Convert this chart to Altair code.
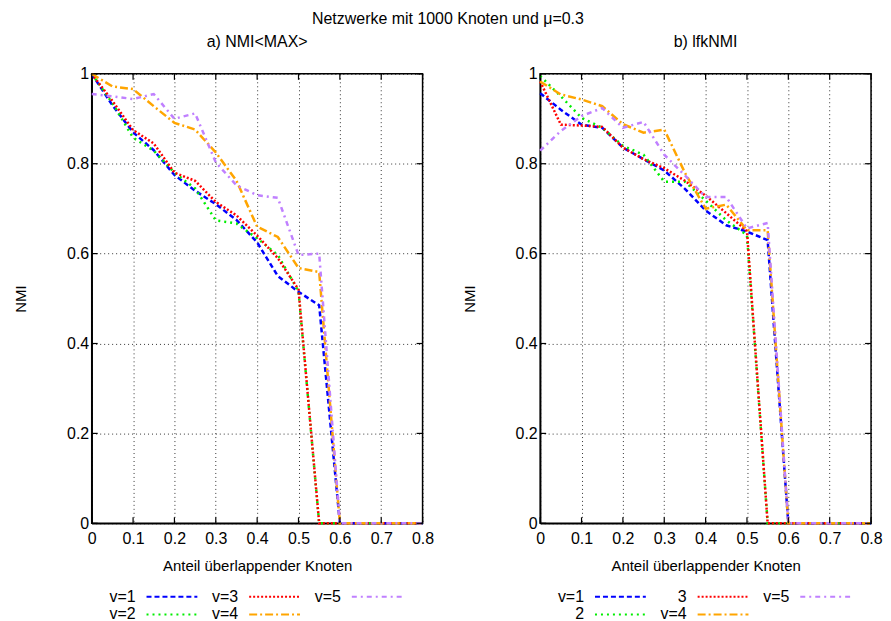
import altair as alt
import pandas as pd

# ---------------- data ----------------
x_vals = [0.0, 0.05, 0.1, 0.15, 0.2, 0.25, 0.3, 0.35, 0.4, 0.45, 0.5, 0.55, 0.6, 0.65, 0.7, 0.75, 0.8]

# a) NMI<MAX>
a_v1 = [1.0, 0.93, 0.87, 0.83, 0.775, 0.74, 0.71, 0.675, 0.625, 0.55, 0.515, 0.485, 0, 0, 0, 0, 0]
a_v2 = [1.0, 0.935, 0.858, 0.829, 0.78, 0.745, 0.674, 0.667, 0.634, 0.597, 0.516, 0, 0, 0, 0, 0, 0]
a_v3 = [1.0, 0.94, 0.875, 0.845, 0.78, 0.762, 0.715, 0.685, 0.64, 0.59, 0.52, 0, 0, 0, 0, 0, 0]
a_v4 = [1.0, 0.972, 0.966, 0.928, 0.891, 0.876, 0.825, 0.762, 0.66, 0.637, 0.568, 0.559, 0, 0, 0, 0, 0]
a_v5 = [0.955, 0.95, 0.944, 0.955, 0.9, 0.912, 0.803, 0.752, 0.73, 0.724, 0.597, 0.6, 0, 0, 0, 0, 0]

# b) lfkNMI
b_v1 = [0.957, 0.92, 0.887, 0.88, 0.836, 0.81, 0.785, 0.744, 0.696, 0.663, 0.649, 0.63, 0, 0, 0, 0, 0]
b_v2 = [0.995, 0.95, 0.902, 0.88, 0.84, 0.82, 0.76, 0.76, 0.718, 0.674, 0.641, 0, 0, 0, 0, 0, 0]
b_v3 = [0.983, 0.887, 0.885, 0.882, 0.836, 0.81, 0.79, 0.762, 0.729, 0.69, 0.65, 0, 0, 0, 0, 0, 0]
b_v4 = [0.983, 0.954, 0.943, 0.928, 0.888, 0.869, 0.876, 0.78, 0.70, 0.709, 0.652, 0.652, 0, 0, 0, 0, 0]
b_v5 = [0.829, 0.873, 0.906, 0.924, 0.88, 0.893, 0.82, 0.774, 0.726, 0.726, 0.656, 0.668, 0, 0, 0, 0, 0]

labels_a = ["v=1", "v=2", "v=3", "v=4", "v=5"]
labels_b = ["v=1", "2", "3", "v=4", "v=5"]

x_ticks = [0, 0.1, 0.2, 0.3, 0.4, 0.5, 0.6, 0.7, 0.8]
y_ticks = [0, 0.2, 0.4, 0.6, 0.8, 1]

colors = ["#0000ff", "#00ee00", "#ff0000", "#ffa500", "#c080ff"]
dashes = [[5, 3], [2, 4], [2, 2], [8, 3, 2, 3], [5, 4, 2, 4]]

FONT = "Liberation Sans"
W, H = 332, 451
TICK = 6

XS = alt.Scale(domain=[0, 0.8], nice=False)
YS = alt.Scale(domain=[0, 1], nice=False)


def long_df(series, labels):
    rows = []
    for lab, ys in zip(labels, series):
        for xv, yv in zip(x_vals, ys):
            rows.append({"x": xv, "y": yv, "s": lab})
    return pd.DataFrame(rows)


def panel(series, labels, title):
    df = long_df(series, labels)
    legend = alt.Legend(
        title=None, orient="none", legendX=71, legendY=515, columns=3,
        symbolType="M-3,0H3", symbolSize=289, symbolStrokeWidth=2,
        labelAlign="right", labelOffset={"expr": "-46"}, labelFont=FONT, labelFontSize=16,
        labelColor="black", rowPadding=0, columnPadding=10,
    )
    lines = alt.Chart(df).mark_line(strokeWidth=2.5, clip=False).encode(
        x=alt.X("x:Q", scale=XS,
                axis=alt.Axis(title="Anteil überlappender Knoten", values=x_ticks, format="~g")),
        y=alt.Y("y:Q", scale=YS,
                axis=alt.Axis(title="NMI", values=y_ticks, format="~g")),
        color=alt.Color("s:N", scale=alt.Scale(domain=labels, range=colors), legend=legend),
        strokeDash=alt.StrokeDash("s:N", scale=alt.Scale(domain=labels, range=dashes), legend=legend),
        order=alt.Order("s:N"),
    )
    xt = pd.DataFrame({"t": x_ticks})
    yt = pd.DataFrame({"t": y_ticks})
    rule = dict(color="black", strokeWidth=1.2)
    tb = alt.Chart(xt).mark_rule(**rule).encode(
        x=alt.X("t:Q", scale=XS), y=alt.value(H), y2=alt.value(H - TICK))
    tt = alt.Chart(xt).mark_rule(**rule).encode(
        x=alt.X("t:Q", scale=XS), y=alt.value(0), y2=alt.value(TICK))
    tl = alt.Chart(yt).mark_rule(**rule).encode(
        y=alt.Y("t:Q", scale=YS), x=alt.value(0), x2=alt.value(TICK))
    tr = alt.Chart(yt).mark_rule(**rule).encode(
        y=alt.Y("t:Q", scale=YS), x=alt.value(W), x2=alt.value(W - TICK))
    return alt.layer(lines, tb, tt, tl, tr).properties(
        width=W, height=H,
        title=alt.TitleParams(title, fontSize=16, font=FONT, fontWeight="normal", offset=16),
    )


left = panel([a_v1, a_v2, a_v3, a_v4, a_v5], labels_a, "a) NMI<MAX>")
right = panel([b_v1, b_v2, b_v3, b_v4, b_v5], labels_b, "b) lfkNMI")

chart = alt.hconcat(left, right, spacing=27).resolve_scale(
    color="independent", strokeDash="independent"
).properties(
    title=alt.TitleParams("Netzwerke mit 1000 Knoten und μ=0.3", fontSize=16, font=FONT,
                          fontWeight="normal", anchor="middle", offset=6),
    padding={"left": 5, "top": 2, "right": 0, "bottom": 0},
).configure_view(
    stroke="black", strokeWidth=1.5
).configure_axis(
    grid=True, gridColor="#000000", gridDash=[1, 3], gridOpacity=0.8, gridWidth=1,
    domain=True, domainColor="black", domainWidth=1.5, labelFlush=False,
    ticks=False, labelFont=FONT, labelFontSize=16, labelColor="black",
    titleFont=FONT, titleFontSize=15, titleFontWeight="normal", titleColor="black",
).configure_axisY(
    titlePadding=38, labelPadding=3,
).configure_axisX(
    titlePadding=12, labelPadding=7,
)

chart.save("out.html", embed_options={"renderer": "svg", "actions": False})
